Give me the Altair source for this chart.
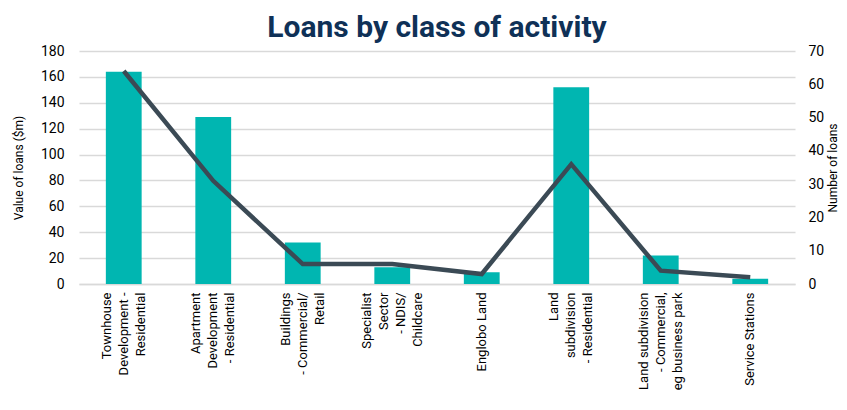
import altair as alt
import pandas as pd

categories = [
    "Townhouse|Development -|Residential",
    "Apartment|Development|- Residential",
    "Buildings|- Commercial/|Retail",
    "Specialist|Sector|- NDIS/|Childcare",
    "Englobo Land",
    "Land|subdivision|- Residential",
    "Land subdivision|- Commercial,|eg business park",
    "Service Stations",
]
loan_values = [164, 129, 32, 13, 9, 152, 22, 4]
loan_counts = [64, 31, 6, 6, 3, 36, 4, 2]

df = pd.DataFrame({"cat": categories, "value": loan_values, "count": loan_counts})

FONT = "Roboto"
LH = 17

x = alt.X(
    "cat:N",
    sort=categories,
    title=None,
    scale=alt.Scale(paddingInner=0.6, paddingOuter=0.3),
    axis=alt.Axis(
        labelExpr="split(datum.label, '|')",
        labelAngle=270,
        labelAlign="right",
        labelBaseline="middle",
        labelOffset=alt.ExprRef(f"-(length(split(datum.value, '|')) - 1) * {LH / 2}"),
        labelFontSize=13,
        labelLineHeight=LH,
        labelColor="#000000",
        labelFont=FONT,
        labelPadding=8,
        ticks=False,
        domain=True,
        domainColor="#d9d9d9",
        domainWidth=1.5,
        grid=False,
        labelLimit=200,
    ),
)

bars = alt.Chart(df).mark_bar(color="#00b6b1").encode(
    x=x,
    y=alt.Y(
        "value:Q",
        scale=alt.Scale(domain=[0, 180]),
        axis=alt.Axis(
            title="Value of loans ($m)",
            values=list(range(0, 181, 20)),
            ticks=False,
            domain=False,
            gridColor="#d9d9d9",
            gridWidth=1.5,
            labelFontSize=14,
            labelColor="#000000",
            labelFont=FONT,
            labelPadding=15,
            titleFontSize=12,
            titleFontWeight="normal",
            titleFont=FONT,
            titleColor="#000000",
            titlePadding=15,
        ),
    ),
)

line = alt.Chart(df).mark_line(color="#3b4a55", strokeWidth=4.5).encode(
    x=x,
    y=alt.Y(
        "count:Q",
        scale=alt.Scale(domain=[0, 70]),
        axis=alt.Axis(
            orient="right",
            title="Number of loans",
            titleAngle=270,
            titleBaseline="top",
            values=list(range(0, 71, 10)),
            ticks=False,
            domain=False,
            grid=False,
            labelFontSize=14,
            labelColor="#000000",
            labelFont=FONT,
            labelPadding=13,
            titleFontSize=12,
            titleFontWeight="normal",
            titleFont=FONT,
            titleColor="#000000",
            titlePadding=4,
        ),
    ),
)

chart = (
    alt.layer(bars, line)
    .resolve_scale(y="independent")
    .properties(
        width=716,
        height=233,
        autosize=alt.AutoSizeParams(type="none"),
        padding={"left": 71, "top": 43, "right": 44, "bottom": 118},
        title=alt.TitleParams(
            "Loans by class of activity",
            fontSize=30,
            font=FONT,
            fontWeight="bold",
            color="#0f3157",
            anchor="middle",
            offset=1,
        ),
    )
    .configure_view(stroke=None)
)

chart.save("out.html", embed_options={"renderer": "svg", "actions": False})
